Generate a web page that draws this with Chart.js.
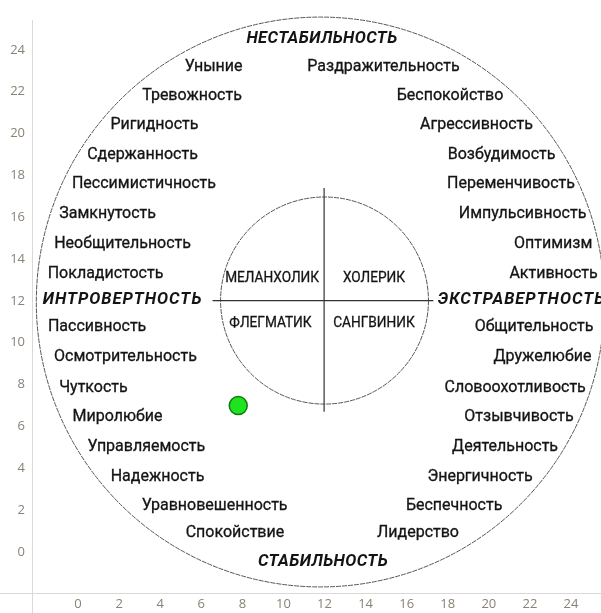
<!DOCTYPE html>
<html>
<head>
<meta charset="utf-8">
<script src="https://cdn.jsdelivr.net/npm/chart.js@4.4.1/dist/chart.umd.min.js"></script>
<style>
  html, body { margin: 0; padding: 0; background: #fff; overflow: hidden; }
  canvas { display: block; }
</style>
</head>
<body>
<canvas id="chart" width="601" height="613"></canvas>
<script>
// tick values shown on both axes
const tickValues = [0, 2, 4, 6, 8, 10, 12, 14, 16, 18, 20, 22, 24];

// the measured person
const person = [{ x: 7.8, y: 7.0 }];

// trait rows (shared by both sides of the circle)
const rowY = [23.2, 21.8, 20.4, 19.0, 17.6, 16.15, 14.7, 13.3, 10.75, 9.3, 7.85, 6.45, 5.0, 3.6, 2.2, 0.9];

const traitsLeft = ['Уныние', 'Тревожность', 'Ригидность', 'Сдержанность', 'Пессимистичность',
  'Замкнутость', 'Необщительность', 'Покладистость', 'Пассивность', 'Осмотрительность',
  'Чуткость', 'Миролюбие', 'Управляемость', 'Надежность', 'Уравновешенность', 'Спокойствие'];
const traitsLeftX = [6.60, 5.55, 3.72, 3.14, 3.21, 1.44, 2.17, 1.34, 0.93, 2.31, 0.75, 1.92, 3.33, 3.87, 6.65, 7.64];

const traitsRight = ['Раздражительность', 'Беспокойство', 'Агрессивность', 'Возбудимость', 'Переменчивость',
  'Импульсивность', 'Оптимизм', 'Активность', 'Общительность', 'Дружелюбие',
  'Словоохотливость', 'Отзывчивость', 'Деятельность', 'Энергичность', 'Беспечность', 'Лидерство'];
const traitsRightX = [14.87, 18.11, 19.40, 20.62, 21.08, 21.64, 23.13, 23.15, 22.20, 22.61, 21.28, 21.47, 20.79, 19.57, 18.31, 16.55];

const poles = ['НЕСТАБИЛЬНОСТЬ', 'ИНТРОВЕРТНОСТЬ', 'ЭКСТРАВЕРТНОСТЬ', 'СТАБИЛЬНОСТЬ'];
const polesX = [11.88, 2.17, 21.59, 11.93];
const polesY = [24.52, 12.05, 12.05, -0.48];

const temperaments = ['МЕЛАНХОЛИК', 'ХОЛЕРИК', 'ФЛЕГМАТИК', 'САНГВИНИК'];
const temperamentsX = [9.45, 14.41, 9.37, 14.41];
const temperamentsY = [13.10, 13.10, 10.95, 10.95];

// circles: centre and radii in axis units
const outerCircle = { cx: 11.8, cy: 11.95, rx: 13.83, ry: 13.62 };
const innerCircle = { cx: 12.0, cy: 12.02, rx: 5.06, ry: 4.95 };
// cross through the small circle
const crossH = { y: 12.02, x1: 6.55, x2: 17.3 };
const crossV = { x: 11.98, y1: 6.7, y2: 17.4 };

const circlePlugin = {
  id: 'eysenck',
  beforeDatasetsDraw(chart) {
    const { ctx, scales: { x, y } } = chart;
    const ellipse = (c) => {
      const px = x.getPixelForValue(c.cx), py = y.getPixelForValue(c.cy);
      const rx = x.getPixelForValue(c.cx + c.rx) - px;
      const ry = py - y.getPixelForValue(c.cy + c.ry);
      ctx.beginPath();
      ctx.ellipse(px, py, rx, ry, 0, 0, Math.PI * 2);
      ctx.stroke();
    };
    ctx.save();
    ctx.strokeStyle = '#555';
    ctx.lineWidth = 1;
    ctx.setLineDash([5, 1]);
    ellipse(outerCircle);
    ellipse(innerCircle);
    ctx.setLineDash([]);
    ctx.strokeStyle = '#333';
    ctx.lineWidth = 1.2;
    ctx.beginPath();
    ctx.moveTo(x.getPixelForValue(crossH.x1), y.getPixelForValue(crossH.y));
    ctx.lineTo(x.getPixelForValue(crossH.x2), y.getPixelForValue(crossH.y));
    ctx.moveTo(x.getPixelForValue(crossV.x), y.getPixelForValue(crossV.y1));
    ctx.lineTo(x.getPixelForValue(crossV.x), y.getPixelForValue(crossV.y2));
    ctx.stroke();

    // text in axis units; a hairline stroke makes Roboto a little heavier, like the original
    const text = (label, vx, vy, font, squeeze, spacing, heavy) => {
      const px = x.getPixelForValue(vx), py = y.getPixelForValue(vy);
      ctx.save();
      ctx.font = font;
      ctx.letterSpacing = spacing || '0px';
      ctx.translate(px, py);
      ctx.scale(squeeze, 1);
      ctx.fillText(label, 0, 0);
      if (heavy) ctx.strokeText(label, 0, 0);
      ctx.restore();
    };
    ctx.fillStyle = '#141414';
    ctx.strokeStyle = '#141414';
    ctx.lineWidth = 0.3;
    ctx.textAlign = 'center';
    ctx.textBaseline = 'middle';
    const traitFont = '16px Roboto';
    traitsLeft.forEach((t, i) => text(t, traitsLeftX[i], rowY[i], traitFont, 1, '0px', true));
    traitsRight.forEach((t, i) => text(t, traitsRightX[i], rowY[i], traitFont, 1, '0px', true));
    poles.forEach((t, i) => text(t, polesX[i], polesY[i], 'italic bold 16.5px Roboto', 1, i === 1 || i === 2 ? '1px' : '0.4px'));
    temperaments.forEach((t, i) => text(t, temperamentsX[i], temperamentsY[i], '15px Roboto', 0.91, '0px', true));
    ctx.restore();
  },
  afterDraw(chart) {
    // axis lines run on past the crossing point, as in the original
    const { ctx, chartArea: a } = chart;
    ctx.save();
    ctx.strokeStyle = '#d9d9d9';
    ctx.lineWidth = 1;
    ctx.beginPath();
    ctx.moveTo(0, a.bottom + 0.5);
    ctx.lineTo(a.left, a.bottom + 0.5);
    ctx.moveTo(a.left + 0.5, a.bottom);
    ctx.lineTo(a.left + 0.5, chart.height);
    ctx.stroke();
    ctx.restore();
  }
};

const tickFont = { family: 'Open Sans', size: 13 };
const axisCommon = {
  type: 'linear',
  grid: { display: false, drawTicks: false },
  border: { display: true, color: '#d9d9d9', width: 1 },
  afterBuildTicks: (scale) => { scale.ticks = tickValues.map(v => ({ value: v })); },
};

const chart = new Chart(document.getElementById('chart').getContext('2d'), {
  type: 'scatter',
  data: {
    datasets: [{
      data: person,
      pointRadius: 9,
      pointHoverRadius: 9,
      backgroundColor: '#1ee31e',
      borderColor: '#137a13',
      borderWidth: 1.5,
    }]
  },
  options: {
    responsive: false,
    animation: false,
    // no extra room for the point radius, the plot runs to the right edge
    layout: { autoPadding: false, padding: { top: 20, right: 0, left: 0, bottom: 0 } },
    plugins: { legend: { display: false }, tooltip: { enabled: false } },
    scales: {
      x: Object.assign({}, axisCommon, {
        min: -2.24, max: 25.46,
        ticks: { color: '#8a8276', font: tickFont, padding: 3, maxRotation: 0, autoSkip: false },
        afterFit: (s) => { s.height = 20; s.paddingLeft = 0; s.paddingRight = 0; },
      }),
      y: Object.assign({}, axisCommon, {
        min: -1.96, max: 25.43,
        ticks: { color: '#8a8276', font: tickFont, padding: 7, autoSkip: false },
        afterFit: (s) => { s.width = 32; s.paddingTop = 0; s.paddingBottom = 0; },
      }),
    }
  },
  plugins: [circlePlugin]
});
</script>
</body>
</html>
